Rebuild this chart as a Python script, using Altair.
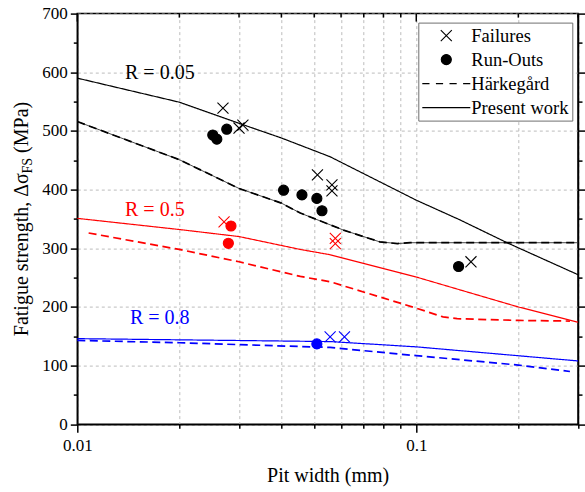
import altair as alt
import pandas as pd

FONT = "Liberation Serif, Times New Roman, serif"

# ---------------- data ----------------
# Present work, R = 0.05
p005_x = [0.01, 0.02, 0.03, 0.04, 0.0557, 0.1, 0.135, 0.186, 0.3]
p005_y = [590, 549, 513, 488, 456, 382, 348, 309, 255]
# Härkegård, R = 0.05
h005_x = [0.01, 0.02, 0.03, 0.04, 0.0455, 0.0557, 0.061, 0.078, 0.088, 0.096, 0.3]
h005_y = [516, 451, 402, 377, 360, 340, 331, 311, 308, 309.5, 309.5]
# Present work, R = 0.5
p05_x = [0.01, 0.02, 0.03, 0.0455, 0.0557, 0.1, 0.2, 0.3]
p05_y = [351, 332, 320, 298, 289, 251, 200, 174]
# Härkegård, R = 0.5
h05_x = [0.0108, 0.02, 0.03, 0.0455, 0.0557, 0.1, 0.12, 0.132, 0.2, 0.284]
h05_y = [326, 298, 277, 252, 243, 198, 183, 180, 177, 176]
# Present work, R = 0.8
p08_x = [0.01, 0.0557, 0.1, 0.3]
p08_y = [146, 141, 132, 108]
# Härkegård, R = 0.8
h08_x = [0.01, 0.02, 0.0557, 0.1, 0.2, 0.284]
h08_y = [143, 139, 131, 117, 101, 90]

# Failures (crosses)
fail_x = [0.0269, 0.0300, 0.0308, 0.0511, 0.0564, 0.0564, 0.145, 0.0271, 0.0577, 0.0577, 0.0557, 0.0614]
fail_y = [539, 505, 510, 425, 408, 398, 277, 345, 317, 308, 149, 149]
fail_r = ["0.05"] * 7 + ["0.5"] * 3 + ["0.8"] * 2
# Run-outs (dots)
run_x = [0.0251, 0.0258, 0.0276, 0.0406, 0.046, 0.0509, 0.0527, 0.1333, 0.0284, 0.0279, 0.0509]
run_y = [493, 486, 503, 399, 391, 385, 364, 269, 338, 308.5, 137]
run_r = ["0.05"] * 8 + ["0.5"] * 2 + ["0.8"]

R_levels = ["0.05", "0.5", "0.8"]
R_colors = ["#000000", "#ff0000", "#0000ff"]
methods = ["Härkegård", "Present work"]
legend_labels = ["Failures", "Run-Outs", "Härkegård", "Present work"]

x_ticks = [0.01, 0.02, 0.03, 0.04, 0.05, 0.06, 0.07, 0.08, 0.09, 0.1, 0.2, 0.3]
x_label_values = [0.01, 0.1]
y_ticks = list(range(0, 701, 50))
y_label_step = 100

ann_text = ["R = 0.05", "R = 0.5", "R = 0.8"]
ann_x = [0.01383, 0.01383, 0.0143]
ann_y = [598, 366, 181]
ann_r = ["0.05", "0.5", "0.8"]

x_title = "Pit width (mm)"
y_title_parts = ["Fatigue strength, Δσ", "FS", "(MPa)"]

# ---------------- tables ----------------
series = [
    ("p005", p005_x, p005_y, "0.05", "Present work"),
    ("h005", h005_x, h005_y, "0.05", "Härkegård"),
    ("p05", p05_x, p05_y, "0.5", "Present work"),
    ("h05", h05_x, h05_y, "0.5", "Härkegård"),
    ("p08", p08_x, p08_y, "0.8", "Present work"),
    ("h08", h08_x, h08_y, "0.8", "Härkegård"),
]
rows = []
for name, xs, ys, r, m in series:
    for xv, yv in zip(xs, ys):
        rows.append({"x": xv, "y": yv, "R": r, "method": m, "series": name})
lines_df = pd.DataFrame(rows)

pts_df = pd.concat([
    pd.DataFrame({"x": fail_x, "y": fail_y, "R": fail_r, "kind": "Failures"}),
    pd.DataFrame({"x": run_x, "y": run_y, "R": run_r, "kind": "Run-Outs"}),
], ignore_index=True)

ann_df = pd.DataFrame({"x": ann_x, "y": ann_y, "t": ann_text, "R": ann_r})
ticks_df = pd.DataFrame({"x": x_ticks})

# ---------------- scales / axes ----------------
W, H = 500.7, 410.7
x_scale = alt.Scale(type="log", domain=[0.01, 0.3], nice=False)
y_scale = alt.Scale(domain=[0, 700], nice=False)
color_scale = alt.Scale(domain=R_levels, range=R_colors)

label_test = " || ".join(f"datum.value == {v}" for v in x_label_values)
x_axis = alt.Axis(
    values=x_ticks,
    labelExpr=f"({label_test}) ? format(datum.value, '~g') : ''",
    grid=True, gridDash=[3, 3], gridColor="#bdbdbd", gridWidth=1,
    tickSize={"condition": {"test": label_test, "value": 8}, "value": 4},
    tickColor="black", tickWidth=1.5, domainColor="black", domainWidth=1.5,
    labelFont=FONT, labelFontSize=17, labelColor="black", labelPadding=5,
    labelFlush=False, labelOverlap=False,
    title=x_title, titleFont=FONT, titleFontSize=20, titleFontWeight="normal",
    titleColor="black", titlePadding=12,
)
y_axis_left = alt.Axis(
    orient="left", values=y_ticks,
    labelExpr=f"datum.value % {y_label_step} == 0 ? datum.label : ''",
    grid=True, gridDash=[3, 3], gridColor="#bdbdbd", gridWidth=1,
    gridOpacity={"condition": {"test": f"datum.value % {y_label_step} != 0", "value": 0}, "value": 1},
    tickSize={"condition": {"test": f"datum.value % {y_label_step} == 0", "value": 7}, "value": 4},
    tickColor="black", tickWidth=1.5, domainColor="black", domainWidth=1.5,
    labelFont=FONT, labelFontSize=17, labelColor="black", labelPadding=3,
    labelOverlap=False, title=None,
)
y_axis_right = alt.Axis(
    orient="right", values=y_ticks, labels=False, grid=False,
    tickSize={"condition": {"test": f"datum.value % {y_label_step} == 0", "value": 7}, "value": 4},
    tickColor="black", tickWidth=1.5, domainColor="black", domainWidth=1.5, title=None,
)

X_PATH = "M-0.23,-0.23L0.23,0.23M-0.23,0.23L0.23,-0.23"
DOT_PATH = "M0.21,0A0.21,0.21,0,1,1,-0.21,0A0.21,0.21,0,1,1,0.21,0Z"
DASH_PATH = "M-1,0H-0.7M-0.433,0H-0.133M0.133,0H0.433M0.7,0H1"
LINE_PATH = "M-1,0H1"
shape_scale = alt.Scale(domain=legend_labels, range=[X_PATH, DOT_PATH, DASH_PATH, LINE_PATH])

legend = alt.Legend(
    title=None, orient="none", legendX=341, legendY=9, direction="vertical",
    symbolSize=2304, symbolStrokeWidth=1.1, symbolStrokeColor="black",
    symbolFillColor="black", symbolOpacity=1, clipHeight=20, rowPadding=4,
    padding=3, labelOffset=0, labelFont=FONT, labelFontSize=18.5,
    labelColor="black", labelLimit=250, strokeColor="#707070", fillColor="white",
)

X = alt.X("x:Q", scale=x_scale, axis=x_axis)

# ---------------- layers ----------------
under = alt.Chart(lines_df).transform_filter("datum.series == 'h005'").mark_line(
    color="#333333", strokeWidth=0.9
).encode(x=X, y=alt.Y("y:Q", scale=y_scale, axis=None), detail="series:N")

lines = alt.Chart(lines_df).mark_line().encode(
    x=X,
    y=alt.Y("y:Q", scale=y_scale, axis=y_axis_left),
    color=alt.Color("R:N", scale=color_scale, legend=None),
    strokeDash=alt.StrokeDash("method:N", scale=alt.Scale(domain=methods, range=[[8, 4.5], [1, 0]]), legend=None),
    strokeWidth=alt.StrokeWidth("method:N", scale=alt.Scale(domain=methods, range=[1.7, 1.2]), legend=None),
    detail="series:N",
)

points = alt.Chart(pts_df).mark_point(size=2304, strokeWidth=1.1, opacity=1).encode(
    x=X,
    y=alt.Y("y:Q", scale=y_scale, axis=y_axis_right),
    shape=alt.Shape("kind:N", scale=shape_scale, legend=legend),
    fill=alt.Fill("R:N", scale=color_scale, legend=None),
    stroke=alt.Stroke("R:N", scale=color_scale, legend=None),
)

ann = alt.Chart(ann_df).mark_text(font=FONT, fontSize=20, align="left", baseline="middle").encode(
    x=X, y=alt.Y("y:Q", scale=y_scale, axis=None), text="t:N",
    color=alt.Color("R:N", scale=color_scale, legend=None),
)

major_test = " || ".join(f"datum.x == {v}" for v in x_label_values)
top_minor = alt.Chart(ticks_df).transform_filter(f"!({major_test})").mark_rule(
    color="black", strokeWidth=1.5
).encode(x=X, y=alt.value(0), y2=alt.value(4))
top_major = alt.Chart(ticks_df).transform_filter(major_test).mark_rule(
    color="black", strokeWidth=1.5
).encode(x=X, y=alt.value(0), y2=alt.value(8))

def title_part(txt, size, xpos, ypos):
    return alt.Chart(pd.DataFrame({"t": [txt]})).mark_text(
        angle=270, align="left", baseline="alphabetic", font=FONT, fontSize=size, color="black"
    ).encode(text="t:N", x=alt.value(xpos), y=alt.value(ypos))

t1 = title_part(y_title_parts[0], 20, -49, 322.6)
t2 = title_part(y_title_parts[1], 14, -45, 159.9)
t3 = title_part(y_title_parts[2], 20, -49, 139.3)

chart = alt.layer(
    under, lines, points, ann, top_minor, top_major, t1, t2, t3
).resolve_axis(y="independent").properties(
    width=W, height=H,
    padding={"left": 77.3, "top": 13.6, "right": 7, "bottom": 67.7},
    autosize=alt.AutoSizeParams(type="none"),
    background="white",
).configure_view(stroke="black", strokeWidth=1.5)

chart.save("out.html", embed_options={"renderer": "svg", "actions": False})
